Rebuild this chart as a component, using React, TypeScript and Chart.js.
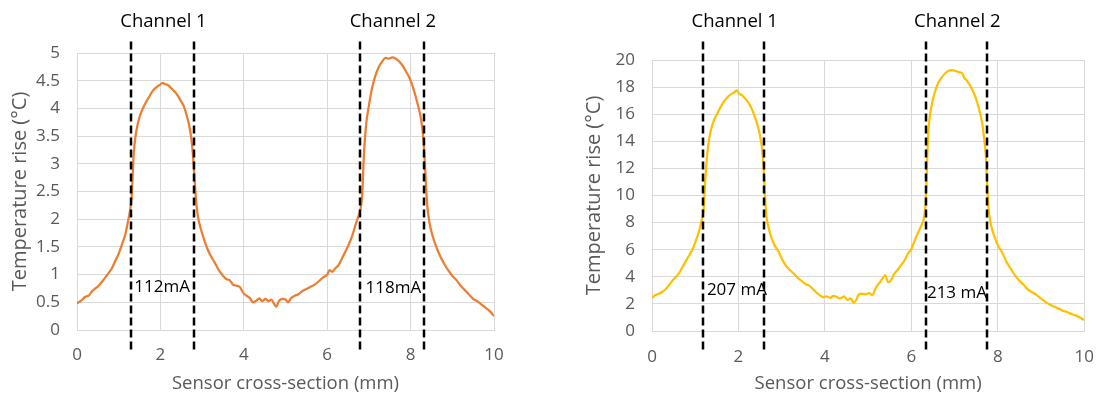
import React, { useEffect, useRef } from "react";
import { Chart, registerables } from "chart.js";

Chart.register(...registerables);

const FONT = "'Open Sans', sans-serif";

// ---------- data ----------
const xTicks = [0, 2, 4, 6, 8, 10];
const leftYTicks = [0, 0.5, 1, 1.5, 2, 2.5, 3, 3.5, 4, 4.5, 5];
const rightYTicks = [0, 2, 4, 6, 8, 10, 12, 14, 16, 18, 20];

const xTitle = "Sensor cross-section (mm)";
const yTitle = "Temperature rise (°C)";
const channelNames = ["Channel 1", "Channel 2"];

const leftX = [
  0.0, 0.1, 0.2, 0.28, 0.36, 0.44, 0.52, 0.6, 0.68, 0.76, 0.84, 0.92, 1.0, 1.08, 1.16, 1.22, 1.27, 1.31, 1.33, 1.35,
  1.38, 1.43, 1.5, 1.58, 1.66, 1.74, 1.82, 1.9, 1.98, 2.06, 2.1, 2.16, 2.24, 2.32, 2.4, 2.48, 2.56, 2.62, 2.68, 2.73,
  2.77, 2.8, 2.83, 2.86, 2.9, 2.96, 3.04, 3.12, 3.2, 3.3, 3.4, 3.5, 3.58, 3.66, 3.74, 3.82, 3.9, 3.98, 4.06, 4.14,
  4.22, 4.3, 4.38, 4.44, 4.52, 4.6, 4.66, 4.72, 4.78, 4.84, 4.92, 5.0, 5.06, 5.14, 5.22, 5.3, 5.4, 5.5, 5.6, 5.7,
  5.8, 5.9, 6.0, 6.06, 6.12, 6.2, 6.28, 6.36, 6.44, 6.52, 6.6, 6.68, 6.76, 6.82, 6.85, 6.87, 6.9, 6.94, 7.0, 7.08,
  7.16, 7.24, 7.32, 7.4, 7.48, 7.56, 7.64, 7.72, 7.8, 7.88, 7.96, 8.04, 8.12, 8.18, 8.24, 8.28, 8.31, 8.34, 8.37, 8.4,
  8.45, 8.52, 8.6, 8.7, 8.8, 8.9, 9.0, 9.1, 9.2, 9.3, 9.4, 9.5, 9.6, 9.7, 9.8, 9.9, 10.0,
];
const leftY = [
  0.48, 0.53, 0.6, 0.62, 0.7, 0.75, 0.8, 0.87, 0.95, 1.03, 1.12, 1.25, 1.38, 1.55, 1.73, 1.95, 2.15, 2.4, 2.7, 3.05,
  3.35, 3.62, 3.85, 4.0, 4.12, 4.22, 4.32, 4.38, 4.42, 4.46, 4.44, 4.43, 4.38, 4.32, 4.25, 4.15, 4.04, 3.9, 3.73, 3.52,
  3.25, 2.95, 2.6, 2.3, 2.05, 1.85, 1.65, 1.48, 1.35, 1.22, 1.08, 0.98, 0.92, 0.9, 0.82, 0.8, 0.78, 0.68, 0.62, 0.58,
  0.5, 0.53, 0.57, 0.52, 0.56, 0.52, 0.55, 0.48, 0.42, 0.52, 0.56, 0.55, 0.5, 0.58, 0.62, 0.64, 0.7, 0.74, 0.78, 0.82,
  0.88, 0.95, 1.0, 1.08, 1.05, 1.12, 1.18, 1.3, 1.42, 1.55, 1.7, 1.9, 2.08, 2.28, 2.6, 3.0, 3.4, 3.75, 4.05, 4.38,
  4.6, 4.75, 4.85, 4.91, 4.9, 4.92, 4.9, 4.85, 4.78, 4.68, 4.57, 4.42, 4.22, 4.05, 3.85, 3.65, 3.4, 3.05, 2.6, 2.25,
  1.95, 1.72, 1.53, 1.35, 1.2, 1.08, 0.98, 0.9, 0.8, 0.72, 0.64, 0.56, 0.52, 0.46, 0.4, 0.34, 0.25,
];

const rightX = [
  0.0, 0.08, 0.16, 0.24, 0.32, 0.4, 0.48, 0.56, 0.64, 0.72, 0.8, 0.88, 0.96, 1.04, 1.1, 1.15, 1.19, 1.21, 1.23, 1.26,
  1.3, 1.36, 1.44, 1.52, 1.6, 1.68, 1.76, 1.84, 1.9, 1.96, 2.02, 2.08, 2.14, 2.2, 2.26, 2.32, 2.38, 2.44, 2.5, 2.54,
  2.57, 2.6, 2.62, 2.65, 2.7, 2.76, 2.84, 2.92, 3.0, 3.08, 3.16, 3.24, 3.32, 3.4, 3.48, 3.56, 3.64, 3.72, 3.8, 3.88,
  3.96, 4.04, 4.12, 4.2, 4.28, 4.36, 4.44, 4.52, 4.6, 4.66, 4.72, 4.78, 4.86, 4.94, 5.02, 5.1, 5.18, 5.26, 5.34, 5.4,
  5.46, 5.52, 5.6, 5.68, 5.76, 5.84, 5.92, 6.0, 6.08, 6.16, 6.24, 6.3, 6.33, 6.35, 6.37, 6.4, 6.46, 6.54, 6.62, 6.7,
  6.78, 6.86, 6.94, 7.02, 7.1, 7.18, 7.22, 7.28, 7.36, 7.44, 7.52, 7.58, 7.64, 7.69, 7.73, 7.75, 7.77, 7.8, 7.86, 7.94,
  8.02, 8.1, 8.2, 8.3, 8.4, 8.5, 8.6, 8.7, 8.8, 8.9, 9.0, 9.1, 9.2, 9.3, 9.4, 9.5, 9.6, 9.7, 9.8, 9.9, 10.0,
];
const rightY = [
  2.45, 2.65, 2.75, 2.9, 3.1, 3.4, 3.75, 4.0, 4.35, 4.8, 5.25, 5.7, 6.2, 6.9, 7.5, 8.2, 8.8, 9.8, 11.0, 12.4,
  13.7, 14.8, 15.6, 16.1, 16.6, 17.0, 17.3, 17.5, 17.6, 17.75, 17.5, 17.4, 17.2, 17.0, 16.7, 16.3, 15.8, 15.2, 14.4, 13.6,
  12.6, 11.0, 9.6, 8.4, 7.6, 6.9, 6.3, 5.9, 5.35, 4.9, 4.6, 4.35, 4.1, 3.85, 3.65, 3.45, 3.35, 3.1, 2.85, 2.65,
  2.5, 2.55, 2.45, 2.6, 2.5, 2.4, 2.55, 2.3, 2.4, 2.1, 2.25, 2.7, 2.75, 2.7, 2.8, 2.65, 3.2, 3.55, 3.9, 4.1,
  3.6, 3.7, 4.2, 4.5, 4.85, 5.2, 5.7, 6.05, 6.7, 7.3, 7.85, 8.5, 9.5, 11.0, 13.0, 15.0, 16.5, 17.6, 18.3, 18.7,
  19.0, 19.2, 19.25, 19.2, 19.1, 19.0, 18.7, 18.5, 18.1, 17.6, 16.9, 16.2, 15.3, 14.0, 12.6, 11.0, 9.8, 8.6, 7.6, 6.8,
  6.2, 5.8, 5.1, 4.6, 4.1, 3.7, 3.4, 3.05, 2.85, 2.65, 2.4, 2.15, 1.95, 1.8, 1.65, 1.5, 1.4, 1.25, 1.15, 1.0, 0.8,
];

// channel boundaries (mm)
const leftBounds = [1.29, 2.81, 6.79, 8.31];
const rightBounds = [1.18, 2.6, 6.33, 7.75];

// current labels and their anchor positions (data units)
const leftCurrents = ["112mA", "118mA"];
const leftCurrentX = [1.375, 6.92];
const leftCurrentY = [0.78, 0.76];
const rightCurrents = ["207 mA", "213 mA"];
const rightCurrentX = [1.27, 6.36];
const rightCurrentY = [3.0, 2.8];

// ---------- layout / style ----------
type Layout = {
  left: number;
  padTop: number;
  padRight: number;
  yAxisW: number;
  xAxisH: number;
  yTickPad: number;
  yTitlePad: number;
  xTickPad: number;
  dashTop: number;
  dashBelow: number;
  titleY: number;
};

const leftLayout: Layout = {
  left: 0,
  padTop: 53,
  padRight: 61,
  yAxisW: 77,
  xAxisH: 66,
  yTickPad: 17,
  yTitlePad: 8,
  xTickPad: 15,
  dashTop: 41.5,
  dashBelow: 22,
  titleY: 22,
};
const rightLayout: Layout = {
  left: 555,
  padTop: 60,
  padRight: 15,
  yAxisW: 97,
  xAxisH: 65,
  yTickPad: 17,
  yTitlePad: 27,
  xTickPad: 16,
  dashTop: 41.5,
  dashBelow: 20,
  titleY: 22,
};

type PanelProps = {
  xs: number[];
  ys: number[];
  color: string;
  yTicks: number[];
  bounds: number[];
  currents: string[];
  curX: number[];
  curY: number[];
  L: Layout;
};

function Panel({ xs, ys, color, yTicks, bounds, currents, curX, curY, L }: PanelProps) {
  const ref = useRef<HTMLCanvasElement>(null);

  useEffect(() => {
    const marks = {
      id: "marks",
      afterDraw(chart: any) {
        const ctx = chart.ctx as CanvasRenderingContext2D;
        const sx = chart.scales.x;
        const sy = chart.scales.y;
        const area = chart.chartArea;
        ctx.save();
        ctx.strokeStyle = "#000000";
        ctx.lineWidth = 2.5;
        ctx.setLineDash([8, 4]);
        bounds.forEach((b) => {
          const px = Math.round(sx.getPixelForValue(b));
          ctx.beginPath();
          ctx.moveTo(px, L.dashTop);
          ctx.lineTo(px, area.bottom + L.dashBelow);
          ctx.stroke();
        });
        ctx.setLineDash([]);
        ctx.fillStyle = "#000000";
        ctx.textBaseline = "middle";
        ctx.textAlign = "center";
        ctx.font = `18.5px ${FONT}`;
        channelNames.forEach((n, i) => {
          const cx = (sx.getPixelForValue(bounds[2 * i]) + sx.getPixelForValue(bounds[2 * i + 1])) / 2 + 1;
          ctx.fillText(n, cx, L.titleY);
        });
        ctx.textAlign = "left";
        ctx.font = `17px ${FONT}`;
        currents.forEach((c, i) => {
          ctx.fillText(c, sx.getPixelForValue(curX[i]), sy.getPixelForValue(curY[i]));
        });
        ctx.restore();
      },
    };

    const chart = new Chart(ref.current as HTMLCanvasElement, {
      type: "line",
      data: {
        datasets: [
          {
            data: xs.map((x, i) => ({ x, y: ys[i] })),
            borderColor: color,
            borderWidth: 2.25,
            pointRadius: 0,
            cubicInterpolationMode: "monotone",
            fill: false,
          },
        ],
      },
      options: {
        animation: false,
        responsive: false,
        layout: { padding: { top: L.padTop, right: L.padRight, left: 0, bottom: 0 } },
        plugins: { legend: { display: false }, tooltip: { enabled: false } },
        scales: {
          x: {
            type: "linear",
            min: 0,
            max: 10,
            afterBuildTicks: (s: any) => {
              s.ticks = xTicks.map((v) => ({ value: v }));
            },
            afterFit: (s: any) => {
              s.height = L.xAxisH;
            },
            grid: { color: "#D9D9D9", drawTicks: false, lineWidth: 1 },
            border: { color: "#D9D9D9" },
            ticks: {
              padding: L.xTickPad,
              color: "#595959",
              font: { family: FONT, size: 17 },
              maxRotation: 0,
              autoSkip: false,
              callback: (v: any) => String(v),
            },
            title: {
              display: true,
              text: xTitle,
              color: "#595959",
              font: { family: FONT, size: 18.5 },
              padding: { top: 0, bottom: 1 },
            },
          },
          y: {
            type: "linear",
            min: yTicks[0],
            max: yTicks[yTicks.length - 1],
            afterBuildTicks: (s: any) => {
              s.ticks = yTicks.map((v) => ({ value: v }));
            },
            afterFit: (s: any) => {
              s.width = L.yAxisW;
            },
            grid: { color: "#D9D9D9", drawTicks: false, lineWidth: 1 },
            border: { color: "#D9D9D9" },
            ticks: {
              padding: L.yTickPad,
              color: "#595959",
              font: { family: FONT, size: 17 },
              autoSkip: false,
              callback: (v: any) => String(v),
            },
            title: {
              display: true,
              text: yTitle,
              color: "#595959",
              font: { family: FONT, size: 20 },
              padding: { top: L.yTitlePad, bottom: 0 },
            },
          },
        },
      },
      plugins: [marks],
    } as any);
    return () => chart.destroy();
  }, []);

  return (
    <canvas
      ref={ref}
      width={555}
      height={396}
      style={{ position: "absolute", left: L.left, top: 0, width: 555, height: 396 }}
    />
  );
}

export default function App() {
  return (
    <div style={{ position: "absolute", left: 0, top: 0, width: 1110, height: 396, background: "#ffffff" }}>
      <Panel
        xs={leftX}
        ys={leftY}
        color="#ED7D31"
        yTicks={leftYTicks}
        bounds={leftBounds}
        currents={leftCurrents}
        curX={leftCurrentX}
        curY={leftCurrentY}
        L={leftLayout}
      />
      <Panel
        xs={rightX}
        ys={rightY}
        color="#FFC000"
        yTicks={rightYTicks}
        bounds={rightBounds}
        currents={rightCurrents}
        curX={rightCurrentX}
        curY={rightCurrentY}
        L={rightLayout}
      />
    </div>
  );
}
